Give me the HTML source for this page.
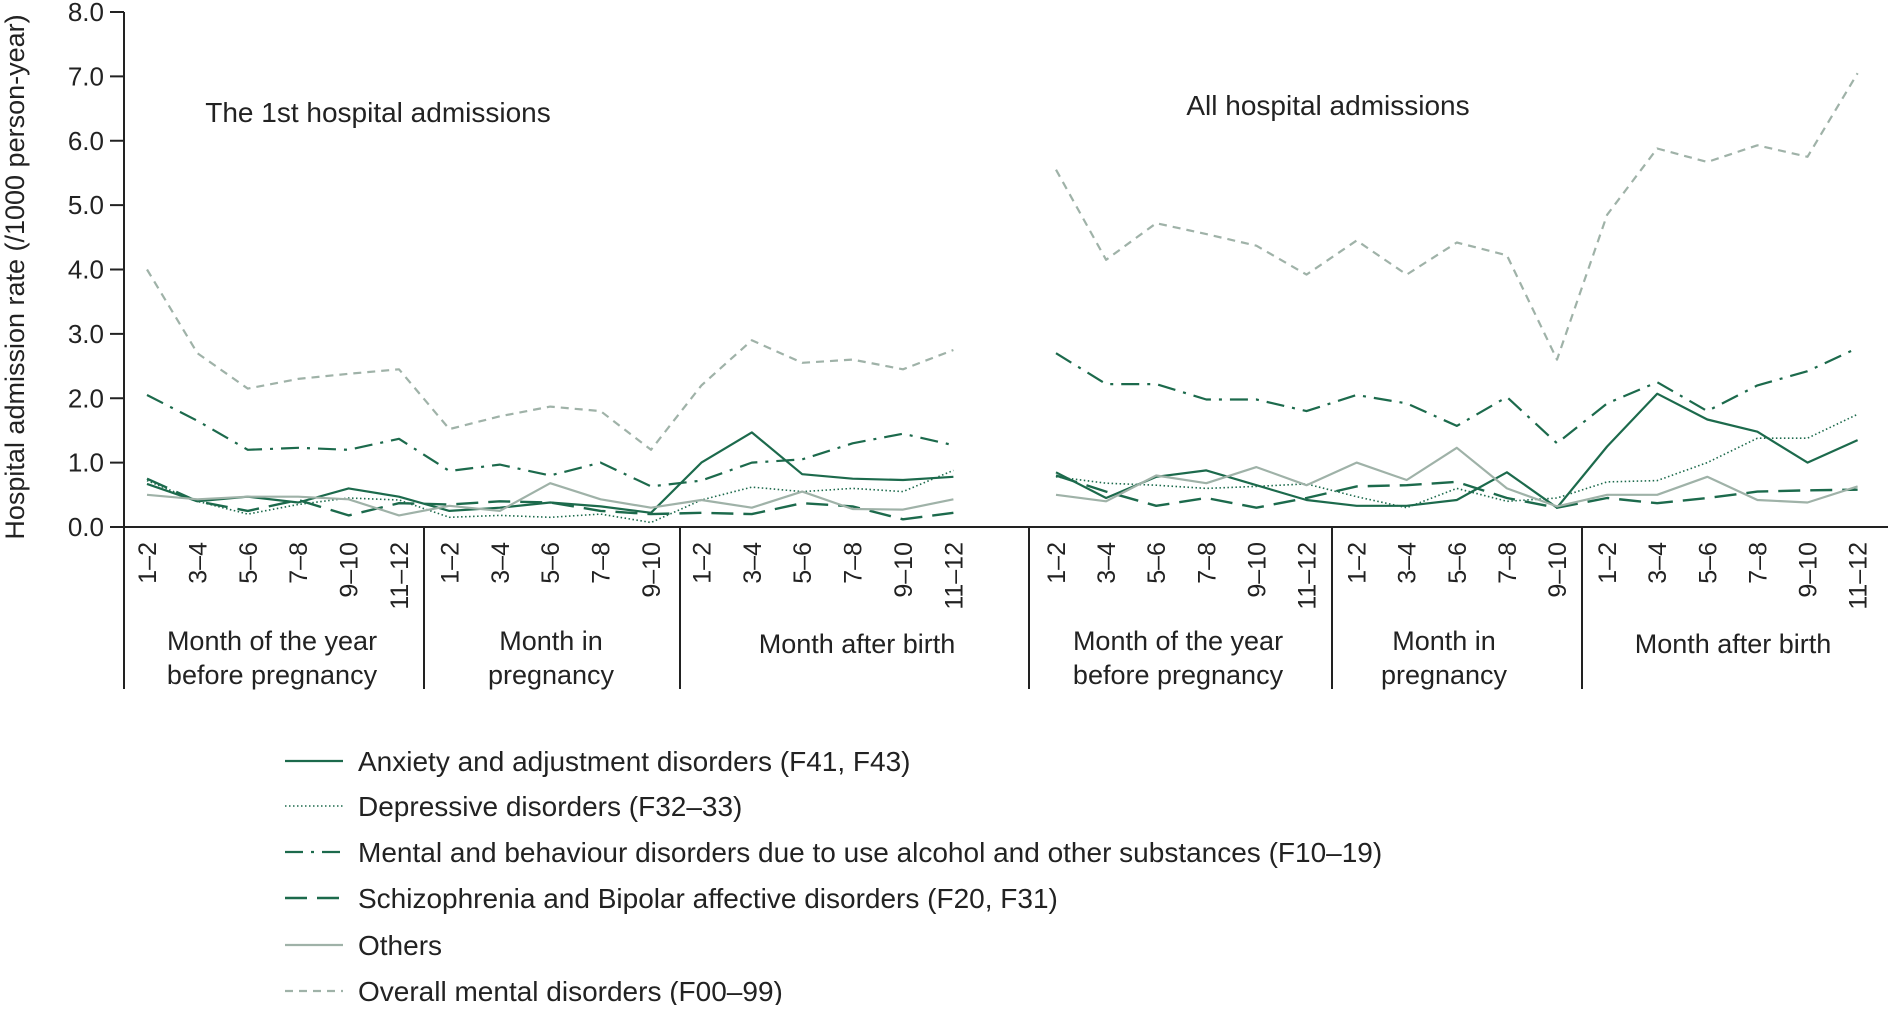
<!DOCTYPE html>
<html><head><meta charset="utf-8"><style>
body{margin:0;background:#fff;}
svg text{font-family:"Liberation Sans",sans-serif;fill:#222;}
</style></head><body>
<svg id="chart" width="1888" height="1005" viewBox="0 0 1888 1005" xmlns="http://www.w3.org/2000/svg">
<g id="axes"></g>
<g id="series"></g>
<g id="legend"></g>
</svg>
<script>
const catLabels=["1–2","3–4","5–6","7–8","9–10","11–12","1–2","3–4","5–6","7–8","9–10","1–2","3–4","5–6","7–8","9–10","11–12"];
const yTicks=[0,1,2,3,4,5,6,7,8];
const groupLabels=[["Month of the year","before pregnancy"],["Month in","pregnancy"],["Month after birth"]];
const seriesNames=["Anxiety and adjustment disorders (F41, F43)","Depressive disorders (F32–33)","Mental and behaviour disorders due to use alcohol and other substances (F10–19)","Schizophrenia and Bipolar affective disorders (F20, F31)","Others","Overall mental disorders (F00–99)"];
const first_anxiety=[0.67,0.4,0.47,0.38,0.6,0.47,0.25,0.3,0.38,0.32,0.22,1.0,1.47,0.82,0.75,0.73,0.78];
const first_depressive=[0.72,0.4,0.2,0.35,0.45,0.42,0.15,0.18,0.15,0.2,0.07,0.42,0.62,0.55,0.6,0.55,0.88];
const first_alcohol=[2.05,1.65,1.2,1.23,1.2,1.37,0.87,0.97,0.8,1.0,0.63,0.72,1.0,1.05,1.3,1.45,1.27];
const first_schizo=[0.75,0.4,0.25,0.42,0.18,0.37,0.35,0.4,0.38,0.25,0.2,0.22,0.2,0.37,0.32,0.12,0.22];
const first_others=[0.5,0.43,0.47,0.47,0.43,0.18,0.33,0.25,0.68,0.43,0.3,0.42,0.3,0.55,0.28,0.27,0.43];
const first_overall=[4.0,2.7,2.15,2.3,2.38,2.45,1.52,1.72,1.87,1.8,1.2,2.2,2.9,2.55,2.6,2.45,2.75];
const all_anxiety=[0.85,0.45,0.78,0.88,0.65,0.42,0.33,0.33,0.42,0.85,0.3,1.25,2.07,1.67,1.48,1.0,1.35];
const all_depressive=[0.78,0.68,0.65,0.6,0.63,0.67,0.47,0.3,0.6,0.4,0.45,0.7,0.72,1.0,1.38,1.38,1.75];
const all_alcohol=[2.7,2.22,2.22,1.98,1.98,1.8,2.05,1.92,1.57,2.02,1.3,1.92,2.25,1.8,2.2,2.42,2.78];
const all_schizo=[0.8,0.55,0.33,0.45,0.3,0.45,0.63,0.65,0.7,0.45,0.3,0.45,0.37,0.45,0.55,0.57,0.58];
const all_others=[0.5,0.4,0.8,0.68,0.93,0.65,1.0,0.73,1.23,0.6,0.32,0.5,0.5,0.78,0.42,0.38,0.63];
const all_overall=[5.55,4.15,4.72,4.55,4.37,3.92,4.45,3.92,4.42,4.22,2.6,4.85,5.88,5.67,5.93,5.75,7.05];

const NS="http://www.w3.org/2000/svg";
const Y0=527, Y8=12;
function y(v){return Y0-(v/8)*(Y0-Y8);}
function x1(i){return 147+i*50.4;}
function x2(i){return 1056+i*50.1;}
function mk(tag,attrs,parent){const e=document.createElementNS(NS,tag);for(const k in attrs)e.setAttribute(k,attrs[k]);parent.appendChild(e);return e;}
const axes=document.getElementById('axes'), ser=document.getElementById('series'), leg=document.getElementById('legend');

let e;
e=mk('line',{x1:124,y1:Y8,x2:124,y2:689,stroke:'#222','stroke-width':2},axes);


e=mk('line',{x1:124,y1:Y0,x2:1888,y2:Y0,stroke:'#222','stroke-width':2},axes);


yTicks.forEach(t=>{
  e=mk('line',{x1:110,y1:y(t),x2:124,y2:y(t),stroke:'#222','stroke-width':2},axes);
  
  
  e=mk('text',{x:104,y:y(t)+9,'text-anchor':'end','font-size':26},axes);
  e.textContent=t.toFixed(1);
  
  
});
e=mk('text',{x:0,y:0,'text-anchor':'middle','font-size':27,transform:'translate(24,277) rotate(-90)'},axes);
e.textContent='Hospital admission rate (/1000 person-year)';


[424,680,1029,1332,1582].forEach(sx=>{
  e=mk('line',{x1:sx,y1:Y0,x2:sx,y2:689,stroke:'#222','stroke-width':2},axes);
  
  
});
[x1,x2].forEach(fx=>{
  catLabels.forEach((c,i)=>{
    e=mk('text',{x:0,y:0,'text-anchor':'end','font-size':25,transform:`translate(${fx(i)+9},542) rotate(-90)`},axes);
    e.textContent=c;
    
    
  });
});
const groupCenters=[[272,551,857],[1178,1444,1733]];
groupCenters.forEach(gc=>{
  groupLabels.forEach((g,k)=>{
    g.forEach((line,j)=>{
      const yy = g.length===1 ? 653 : 650+j*34;
      e=mk('text',{x:gc[k],y:yy,'text-anchor':'middle','font-size':27},axes);
      e.textContent=line;
      
      
    });
  });
});
e=mk('text',{x:378,y:122,'text-anchor':'middle','font-size':28},axes);
e.textContent='The 1st hospital admissions';


e=mk('text',{x:1328,y:115,'text-anchor':'middle','font-size':28},axes);
e.textContent='All hospital admissions';



const DG='#1c6a4c', GR='#9fb2a8';
const styles=[
 {c:DG,d:'',w:2.2},
 {c:DG,d:'1.5 2.5',w:1.6},
 {c:DG,d:'18 8 3 8',w:2.2},
 {c:DG,d:'22 10',w:2.4},
 {c:GR,d:'',w:2.2},
 {c:GR,d:'8 6',w:2.2}
];
const firstData=[first_anxiety,first_depressive,first_alcohol,first_schizo,first_others,first_overall];
const allData=[all_anxiety,all_depressive,all_alcohol,all_schizo,all_others,all_overall];
function drawLine(arr,fx,s,name){
  const pts=arr.map((v,i)=>fx(i).toFixed(1)+','+y(v).toFixed(1)).join(' ');
  const p=mk('polyline',{points:pts,fill:'none',stroke:s.c,'stroke-width':s.w,'stroke-dasharray':s.d,'stroke-linejoin':'round'},ser);
  
  
}
const keys=['anxiety','depressive','alcohol','schizophrenia','others','overall'];
firstData.forEach((a,k)=>drawLine(a,x1,styles[k],'line-first-'+keys[k]));
allData.forEach((a,k)=>drawLine(a,x2,styles[k],'line-all-'+keys[k]));

const legY=[761,806,852,898,945,991];
seriesNames.forEach((n,k)=>{
  const s=styles[k];
  e=mk('line',{x1:285,y1:legY[k],x2:343,y2:legY[k],stroke:s.c,'stroke-width':s.w,'stroke-dasharray':s.d},leg);
  
  
  e=mk('text',{x:358,y:legY[k]+10,'font-size':28},leg);
  e.textContent=n;
  
  
});
</script>
</body></html>
